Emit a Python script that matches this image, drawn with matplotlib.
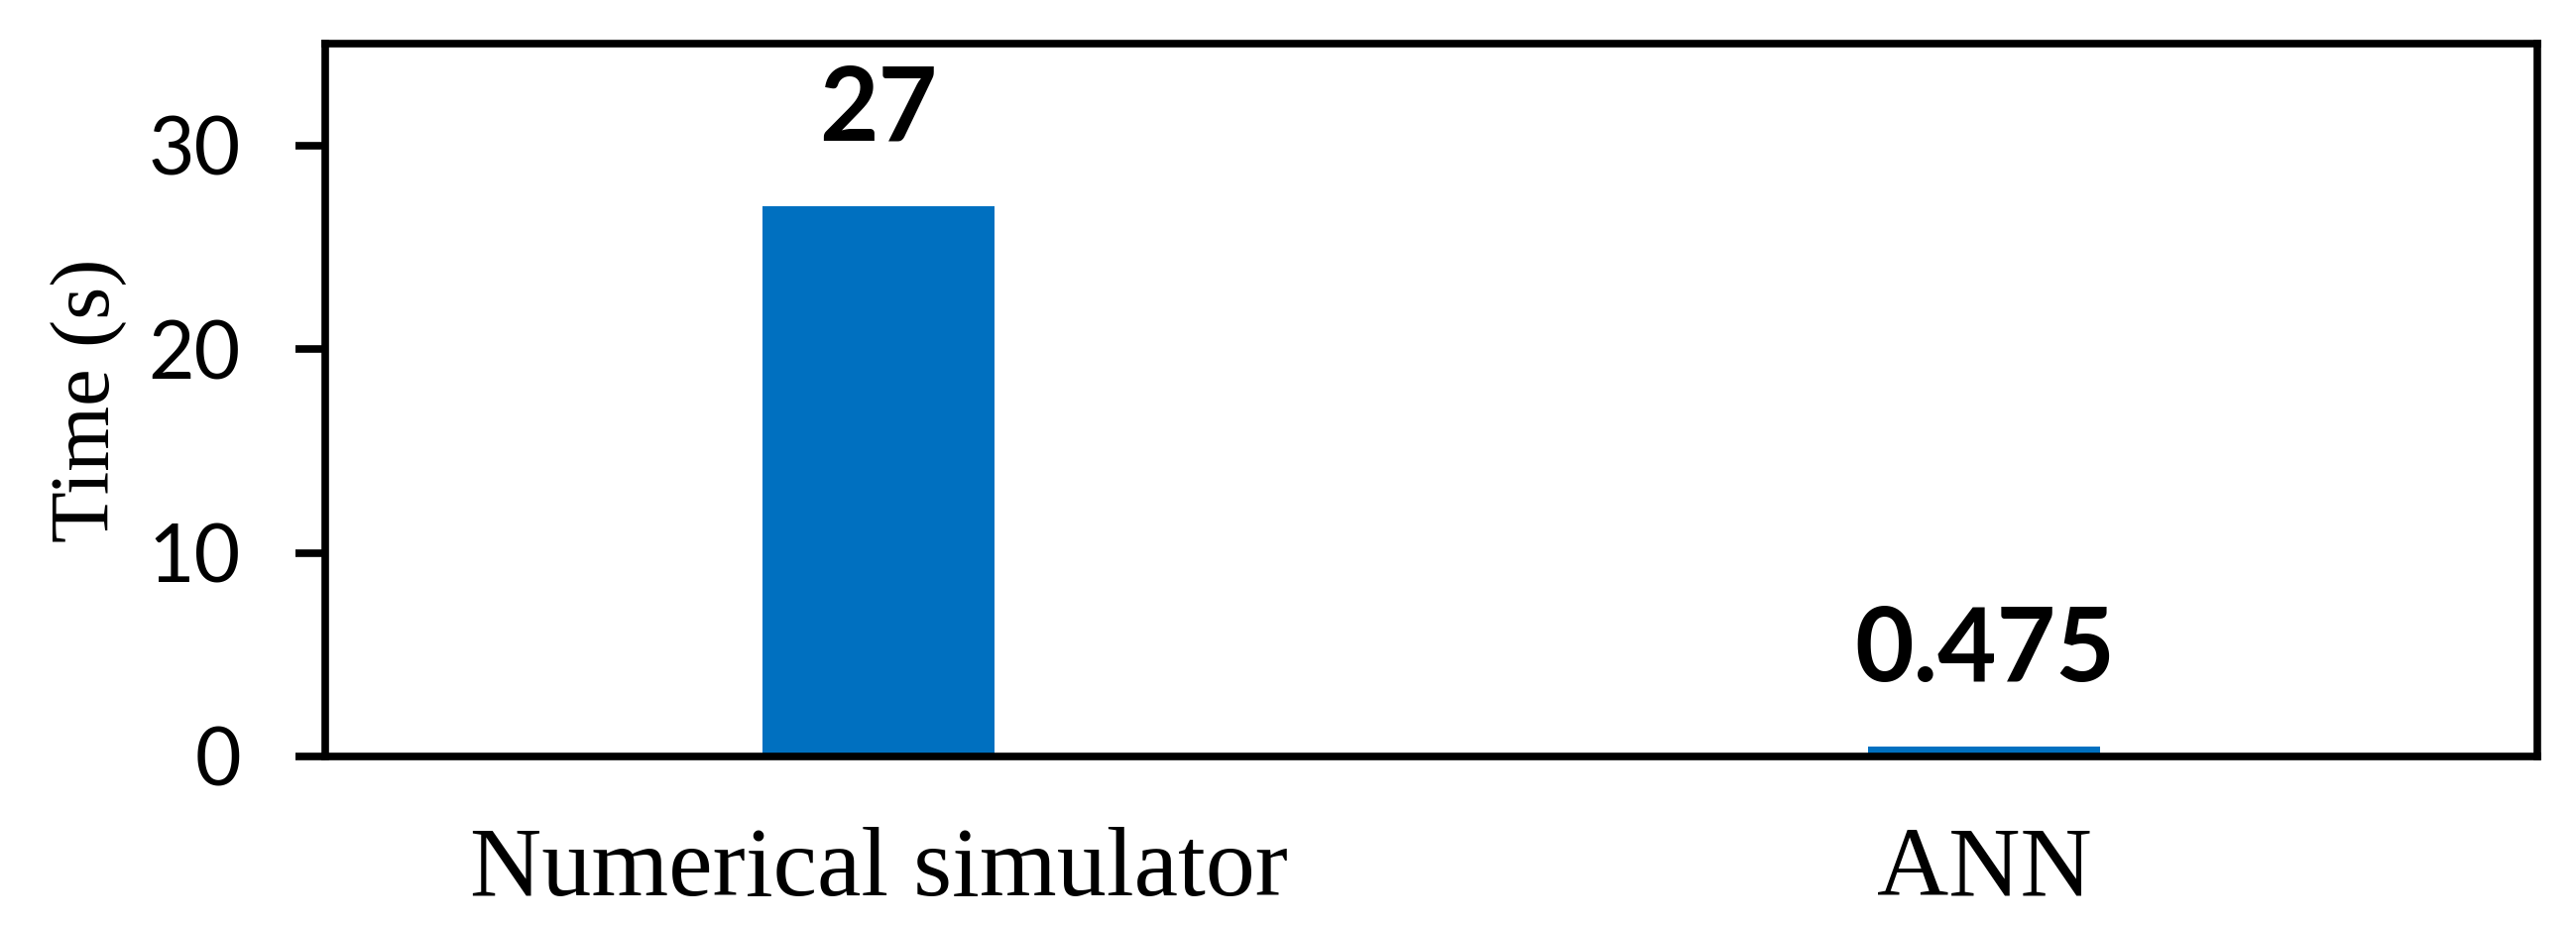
import matplotlib
matplotlib.use("Agg")
import matplotlib.pyplot as plt

categories = ["Numerical simulator", "ANN"]
times = [27, 0.475]
yticks = [0, 10, 20, 30]

fig = plt.figure(figsize=(25.98, 9.35), dpi=100)
ax = fig.add_axes([0.1264, 0.1840, 0.9850 - 0.1264, 0.9530 - 0.1840])

x = list(range(len(categories)))
ax.bar(x, times, width=0.21, color="#0070C0", zorder=2)

for xi, v in zip(x, times):
    ax.annotate(f"{v:g}", xy=(xi, v), xytext=(0, 48), textcoords="offset points",
                ha="center", va="baseline", fontsize=74, fontweight="bold",
                family="Lato", color="black")

ax.set_xlim(-0.5, 1.5)
ax.set_ylim(0, 35)
ax.set_yticks(yticks)
ax.set_yticklabels([str(t) for t in yticks], family="Lato", fontsize=58)
ax.set_xticks(x)
ax.set_xticklabels(categories, family="Liberation Serif", fontsize=72)

ax.tick_params(axis="y", length=21.6, width=5.5, pad=40, direction="out")
ax.tick_params(axis="x", length=0, pad=51)

for s in ax.spines.values():
    s.set_linewidth(5.5)
    s.set_color("black")

ax.set_ylabel("Time (s)", family="Liberation Serif", fontsize=61)
ax.yaxis.set_label_coords(-0.090, 0.5)

fig.savefig("out.png", dpi=100)
